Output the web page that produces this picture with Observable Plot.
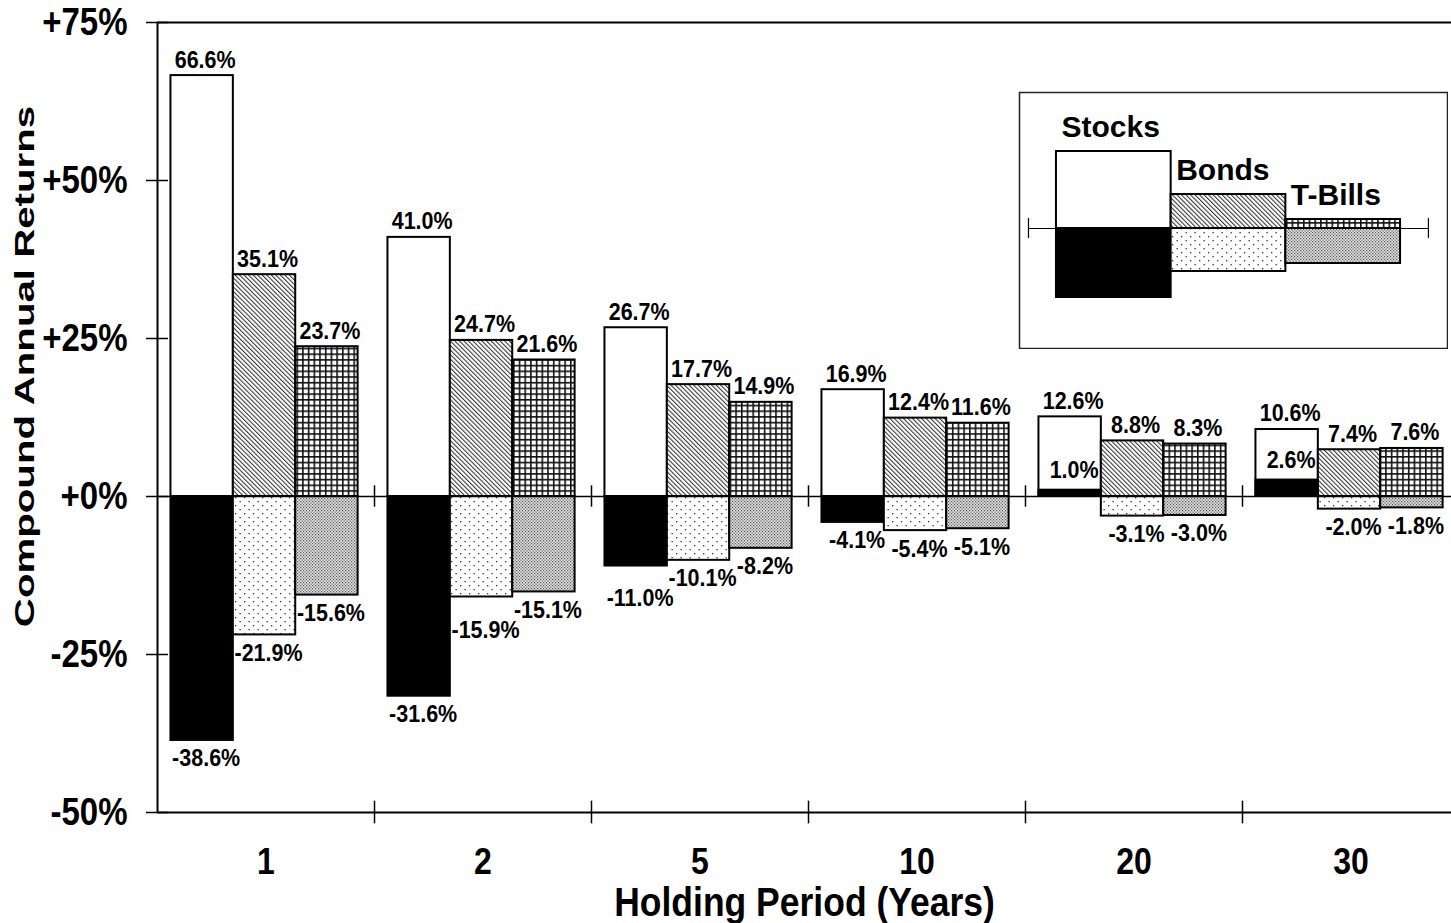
<!DOCTYPE html>
<html><head><meta charset="utf-8">
<script src="https://cdn.jsdelivr.net/npm/d3@7"></script>
<script src="https://cdn.jsdelivr.net/npm/@observablehq/plot@0.6"></script>
<style>
body{margin:0;background:#fff;}
#wrap{position:relative;width:1451px;height:923px;overflow:hidden;background:#fff;}
#legend{position:absolute;left:1018px;top:91px;}
</style></head><body><div id="wrap"></div>
<script>
// ---- data ----
const periods = ["1", "2", "5", "10", "20", "30"];
const series = ["Stocks", "Bonds", "T-Bills"];
const stocksBest  = [66.6, 41.0, 26.7, 16.9, 12.6, 10.6];
const stocksWorst = [-38.6, -31.6, -11.0, -4.1, 1.0, 2.6];
const bondsBest   = [35.1, 24.7, 17.7, 12.4, 8.8, 7.4];
const bondsWorst  = [-21.9, -15.9, -10.1, -5.4, -3.1, -2.0];
const billsBest   = [23.7, 21.6, 14.9, 11.6, 8.3, 7.6];
const billsWorst  = [-15.6, -15.1, -8.2, -5.1, -3.0, -1.8];
const yTicks = [-50, -25, 0, 25, 50, 75];
// schematic legend bars (illustrative heights)
const legendUp = [77, 34, 9];
const legendDown = [-69, -43, -35];

// ---- layout ----
const W = 1451, H = 923, mL = 157, mT = 22, mB = 111;
const yDomain = [-50, 75];
const pxPerPct = (H - mT - mB) / (yDomain[1] - yDomain[0]);
const groupPx = 217;
const barW = 0.2875, barOff = 0.062;
const LABEL_FS = 21.5;
const FONT = "'Liberation Sans', Arial, Helvetica, sans-serif";

const best = [stocksBest, bondsBest, billsBest];
const worst = [stocksWorst, bondsWorst, billsWorst];
const rows = [];
periods.forEach((p, i) => series.forEach((s, j) => rows.push({period: p, i, j, series: s, best: best[j][i], worst: worst[j][i]})));

const x1 = d => d.i + barOff + d.j * barW;
const x2 = d => x1(d) + barW;
const xm = d => x1(d) + barW / 2;
const upFill = ["white", "url(#hatch)", "url(#grid)"];
const downFill = ["black", "url(#dots)", "url(#stipple)"];
const fmt = v => v.toFixed(1) + "%";
const yFmt = v => (v >= 0 ? "+" : "") + v + "%";
const labelW = v => fmt(v).length * 0.56 * LABEL_FS;

// place a worst-case label below its bar; push it below its right neighbour's label when they would collide
function worstLabelY(d) {
  if (d.worst >= 0) return d.worst + 20 / pxPerPct;
  let ref = d.worst, off = 18;
  if (d.j < 2) {
    const nb = worst[d.j + 1][d.i];
    const wide = (labelW(d.worst) + labelW(nb)) / 2 > barW * groupPx + 6;
    if (wide && d.worst < nb && (nb - d.worst) * pxPerPct < 20) { ref = nb; off = 38; }
  }
  return ref - off / pxPerPct;
}

const bounds = [1, 2, 3, 4, 5];
const tickHalf = 11 / groupPx;
const textOpts = {fontFamily: FONT, fontWeight: "bold", fill: "black"};

const chart = Plot.plot({
  width: W, height: H,
  marginLeft: mL, marginRight: 0, marginTop: mT, marginBottom: mB,
  x: {domain: [0, 6], range: [mL, mL + 6 * groupPx], axis: null},
  y: {domain: yDomain, axis: null},
  color: {type: "identity"},
  style: {background: "white", color: "black"},
  marks: [
    Plot.rect(rows, {x1, x2, y1: 0, y2: "best", fill: d => upFill[d.j], stroke: "black", strokeWidth: 2}),
    Plot.rect(rows, {x1, x2, y1: 0, y2: "worst", fill: d => downFill[d.j], stroke: "black", strokeWidth: 2}),
    Plot.ruleY([75, -50], {stroke: "black", strokeWidth: 2}),
    Plot.ruleY([0], {stroke: "black", strokeWidth: 1.5}),
    Plot.ruleX([0], {stroke: "black", strokeWidth: 2}),
    Plot.ruleY(yTicks, {x1: -tickHalf, x2: tickHalf, stroke: "black", strokeWidth: 1.5}),
    Plot.ruleX(bounds, {y1: -1.7, y2: 1.7, stroke: "black", strokeWidth: 1.5}),
    Plot.ruleX(bounds, {y1: -51.8, y2: -48.2, stroke: "black", strokeWidth: 1.5}),
    Plot.text(rows, {x: xm, y: "best", text: d => fmt(d.best), dx: 3, dy: -16, fontSize: LABEL_FS, ...textOpts}),
    Plot.text(rows, {x: xm, y: worstLabelY, text: d => fmt(d.worst), dx: 4, fontSize: LABEL_FS, ...textOpts}),
    Plot.text(yTicks, {x: 0, y: d => d, text: yFmt, textAnchor: "end", dx: -30, fontSize: 33, ...textOpts}),
    Plot.text(periods, {x: (d, i) => i + 0.5, y: -50, dy: 50, text: d => d, fontSize: 32, ...textOpts}),
    Plot.text(["Holding Period (Years)"], {frameAnchor: "bottom", lineAnchor: "middle", textAnchor: "middle", dy: 90, text: d => d, fontSize: 35.5, ...textOpts}),
    Plot.text(["Compound Annual Returns"], {frameAnchor: "left", lineAnchor: "middle", textAnchor: "middle", dx: -132, dy: -51, rotate: -90, text: d => d, fontSize: 27, ...textOpts})
  ]
});

const defs = `
<pattern id="hatch" patternUnits="userSpaceOnUse" width="3.2" height="3.2" patternTransform="rotate(-45)">
  <rect width="3.2" height="3.2" fill="white"/><rect width="1.05" height="3.2" fill="#333"/></pattern>
<pattern id="grid" patternUnits="userSpaceOnUse" width="5.7" height="5.7">
  <rect width="5.7" height="5.7" fill="#111"/><rect x="1.6" y="1.6" width="4.1" height="4.1" fill="white"/></pattern>
<pattern id="dots" patternUnits="userSpaceOnUse" width="9" height="8">
  <rect width="9" height="8" fill="white"/><rect x="1" y="1" width="1.3" height="1.3" fill="#333"/><rect x="5.5" y="5" width="1.3" height="1.3" fill="#333"/></pattern>
<pattern id="stipple" patternUnits="userSpaceOnUse" width="3" height="3">
  <rect width="3" height="3" fill="#e2e2e2"/><rect width="1.2" height="1.2" fill="#555"/><rect x="1.5" y="1.5" width="1.2" height="1.2" fill="#555"/></pattern>`;
chart.insertAdjacentHTML("afterbegin", `<defs>${defs}</defs>`);

function stretchTexts(svg, kH, kRot) {
  svg.querySelectorAll("text").forEach(t => {
    const x = +t.getAttribute("x") || 0, y = +t.getAttribute("y") || 0;
    const tr = t.getAttribute("transform") || "";
    const s = /rotate/.test(tr) ? `scale(${kRot},1)` : `scale(1,${kH})`;
    t.setAttribute("transform", `${tr} translate(${x},${y}) ${s} translate(${-x},${-y})`);
  });
}
stretchTexts(chart, 1.15, 1.49);

// ---- legend ----
const legRows = series.map((s, j) => ({j, s, up: legendUp[j], down: legendDown[j]}));
const legend = Plot.plot({
  width: 430, height: 258, margin: 0,
  x: {domain: [-0.331, 3.418], axis: null},
  y: {domain: [-121, 137], axis: null},
  color: {type: "identity"},
  style: {background: "white", color: "black"},
  marks: [
    Plot.frame({stroke: "#222", strokeWidth: 1.5, inset: 1}),
    Plot.ruleY([0], {x1: -0.244, x2: 3.243, stroke: "black", strokeWidth: 1.2}),
    Plot.ruleX([-0.244, 3.243], {y1: -10, y2: 10, stroke: "black", strokeWidth: 1.2}),
    Plot.rect(legRows, {x1: d => d.j, x2: d => d.j + 1, y1: 0, y2: "up", fill: d => upFill[d.j], stroke: "black", strokeWidth: 2}),
    Plot.rect(legRows, {x1: d => d.j, x2: d => d.j + 1, y1: 0, y2: "down", fill: d => downFill[d.j], stroke: "black", strokeWidth: 2}),
    Plot.text(legRows, {x: d => d.j, y: "up", text: "s", textAnchor: "start", dx: 5, dy: -24, fontSize: 30, ...textOpts})
  ]
});
legend.id = "legend";

const wrap = document.getElementById("wrap");
wrap.appendChild(chart);
wrap.appendChild(legend);
</script></body></html>
